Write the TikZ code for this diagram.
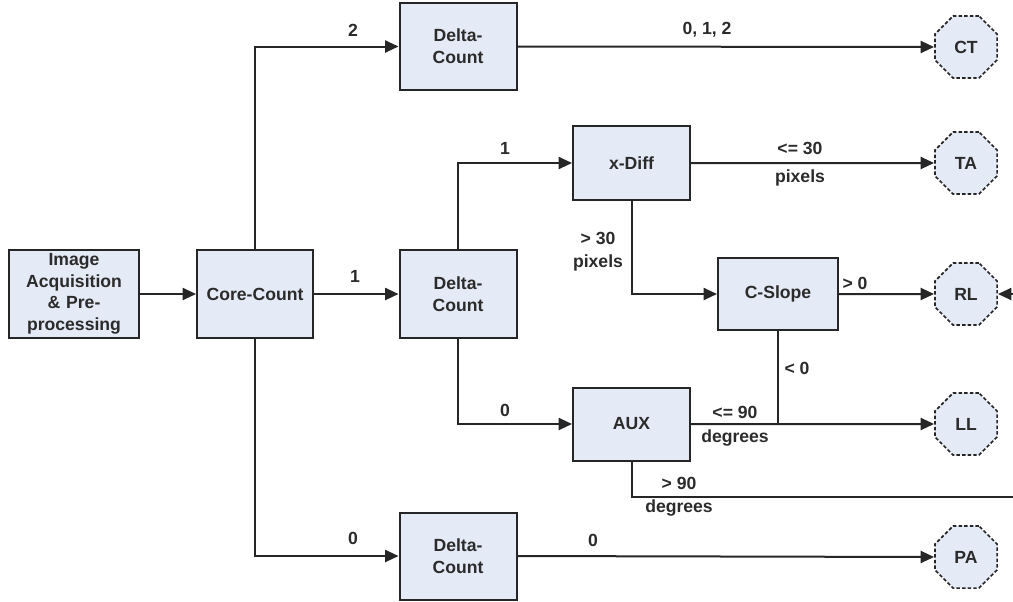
\documentclass[tikz,border=0pt]{standalone}
\usepackage{fontspec}
\setmainfont{Liberation Sans}
\usetikzlibrary{arrows.meta,shapes.geometric}
\definecolor{boxfill}{HTML}{E4EAF6}
\definecolor{txt}{HTML}{2B2B2B}
\tikzset{
  box/.style={draw=black!85, line width=1.5pt, fill=boxfill, align=center, inner sep=0pt,
     font=\fontsize{13.2}{16.2}\selectfont\bfseries\color{txt}},
  oct/.style={regular polygon, regular polygon sides=8, minimum size=50.5pt, inner sep=0pt,
     draw=black!85, line width=1.3pt, dash pattern=on 2.6pt off 1.6pt, fill=boxfill,
     font=\fontsize{13.2}{16}\selectfont\bfseries\color{txt}},
  arr/.style={draw=black!85, line width=1.5pt, -{Triangle[length=10pt,width=9pt]}},
  ln/.style={draw=black!85, line width=1.5pt},
  lbl/.style={font=\fontsize{13.2}{16}\selectfont\bfseries\color{txt}, inner sep=0pt, align=center}
}
\begin{document}
\begin{tikzpicture}[x=0.75pt,y=-0.75pt]
\useasboundingbox (0,0) rectangle (1013,601);
% boxes
\node[box, minimum width=98pt, minimum height=66pt, text width=96pt] (acq) at (74,294) {Image\\Acquisition\\\&~Pre-\\processing};
\node[box, minimum width=87pt, minimum height=66pt] (core) at (255,294) {Core-Count};
\node[box, minimum width=87.75pt, minimum height=65.25pt] (dtop) at (458,46.5) {Delta-\\Count};
\node[box, minimum width=87.75pt, minimum height=66pt] (dmid) at (458,294) {Delta-\\Count};
\node[box, minimum width=87.75pt, minimum height=65.25pt] (dbot) at (458,556) {Delta-\\Count};
\node[box, minimum width=87.75pt, minimum height=55.5pt] (xdiff) at (631.5,163) {x-Diff};
\node[box, minimum width=87.75pt, minimum height=54.75pt] (aux) at (631.5,424) {AUX};
\node[box, minimum width=90pt, minimum height=54pt] (cslope) at (778,294) {C-Slope};
% octagons
\node[oct] (ct) at (966,47) {CT};
\node[oct] (ta) at (966,163) {TA};
\node[oct] (rl) at (966,294) {RL};
\node[oct] (ll) at (966,424) {LL};
\node[oct] (pa) at (966,557) {PA};
% connectors
\draw[arr] (acq.east) -- (core.west);
\draw[arr] (core.north) |- (dtop.west);
\draw[arr] (core.south) |- (dbot.west);
\draw[arr] (core.east) -- (dmid.west);
\draw[arr] (dtop.east) -- (ct.west);
\draw[arr] (dbot.east) -- (pa.west);
\draw[arr] (dmid.north) |- (xdiff.west);
\draw[arr] (dmid.south) |- (aux.west);
\draw[arr] (xdiff.east) -- (ta.west);
\draw[arr] (xdiff.south) |- (cslope.west);
\draw[arr] (cslope.east) -- (rl.west);
\draw[ln] (cslope.south) -- (cslope.south |- aux.east);
\draw[arr] (aux.east) -- (ll.west);
\coordinate (farright) at (1025,497);
\draw[arr] (aux.south) |- (farright) |- (rl.east);
% labels
\node[lbl] (l2) at (353,30) {2};
\node[lbl] (l1a) at (355,276) {1};
\node[lbl] (l0a) at (353,538) {0};
\node[lbl] (l012) at (707,30) {0, 1, 2};
\node[lbl] (l1b) at (505,148) {1};
\node[lbl] (l0b) at (505,410) {0};
\node[lbl] (l0c) at (593,540) {0};
\node[lbl] (le30) at (800,148) {<= 30};
\node[lbl] (pix1) at (800,178) {pixels};
\node[lbl] (gt30) at (598,238) {> 30};
\node[lbl] (pix2) at (598,263) {pixels};
\node[lbl] (gt0) at (855,283) {> 0};
\node[lbl] (lt0) at (797,368) {< 0};
\node[lbl] (le90) at (735,412) {<= 90};
\node[lbl] (deg1) at (735,438) {degrees};
\node[lbl] (gt90) at (679,483) {> 90};
\node[lbl] (deg2) at (679,508) {degrees};
\end{tikzpicture}
\end{document}
